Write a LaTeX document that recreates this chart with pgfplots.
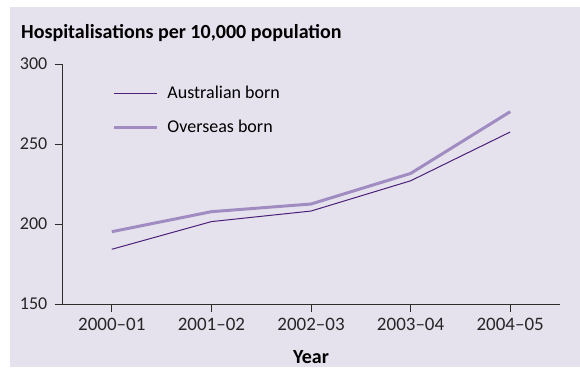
\documentclass[border=0pt]{standalone}
\usepackage{fontspec}
\setmainfont{Carlito}
\usepackage{pgfplots}
\pgfplotsset{compat=1.18}
\usetikzlibrary{calc}
\pgfdeclarelayer{background}
\pgfsetlayers{background,main}

\definecolor{bg}{RGB}{229,226,238}
\definecolor{ausborn}{RGB}{75,32,120}
\definecolor{ovsborn}{RGB}{160,140,192}
\definecolor{axisgrey}{RGB}{45,45,45}

\begin{document}
\fontsize{18bp}{21bp}\selectfont
\begin{tikzpicture}[x=1bp,y=1bp]
  \begin{axis}[
      width=498bp, height=240bp, scale only axis,
      xmin=-0.5, xmax=4.5, ymin=150, ymax=300,
      axis x line=bottom, axis y line=left,
      axis line style={-, axisgrey, line width=0.8bp},
      tick align=outside,
      major tick length=7.5bp,
      tick style={axisgrey, line width=0.8bp},
      xtick={0,1,2,3,4},
      xticklabels={2000–01,2001–02,2002–03,2003–04,2004–05},
      ytick={150,200,250,300},
      /pgf/number format/assume math mode=true,
      tick label style={font=\fontsize{18bp}{21bp}\selectfont, text=black!85},
      xticklabel style={font=\fontsize{19bp}{22bp}\selectfont},
      yticklabel style={xshift=-1bp},
      xlabel={\bfseries Year},
      xlabel style={at={(axis description cs:0.5,0)}, anchor=base, yshift=-59bp,
        font=\fontsize{20bp}{24bp}\selectfont, inner sep=0pt},
      legend style={draw=none, fill=none, at={(axis description cs:0.095,0.926)},
        anchor=north west, row sep=15bp,
        nodes={inner sep=2bp}},
      legend cell align=left,
      legend image code/.code={\draw[#1] (0bp,0bp) -- (43bp,0bp); \path (50bp,0bp);},
    ]
    \coordinate (O) at (rel axis cs:0,0);
    \addplot[ausborn, line width=1bp] coordinates {
      (0,184.2) (1,201.5) (2,208.1) (3,227.0) (4,257.5)};
    \addlegendentry{Australian born}
    \addplot[ovsborn, line width=3bp] coordinates {
      (0,195.2) (1,207.7) (2,212.5) (3,231.6) (4,270.2)};
    \addlegendentry{Overseas born}
  \end{axis}
  \node[anchor=base west, font=\fontsize{20bp}{24bp}\selectfont\bfseries, inner sep=0pt]
    at ($(O)+(-41,266)$) {Hospitalisations per 10,000 population};
  \begin{pgfonlayer}{background}
    \fill[bg] ($(O)+(-52,-63)$) rectangle ($(O)+(518,297)$);
    \path ($(O)+(-62,-63)$) rectangle ($(O)+(518,304)$);
  \end{pgfonlayer}
\end{tikzpicture}
\end{document}
